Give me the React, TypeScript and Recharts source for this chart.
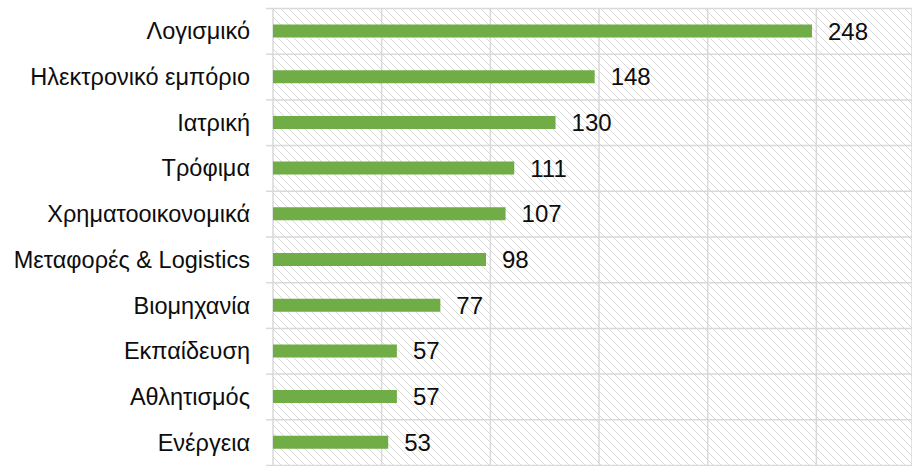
import React from 'react';
import { BarChart, Bar, XAxis, YAxis, CartesianGrid, LabelList } from 'recharts';

const categories = [
  'Λογισμικό',
  'Ηλεκτρονικό εμπόριο',
  'Ιατρική',
  'Τρόφιμα',
  'Χρηματοοικονομικά',
  'Μεταφορές & Logistics',
  'Βιομηχανία',
  'Εκπαίδευση',
  'Αθλητισμός',
  'Ενέργεια',
];
const values = [248, 148, 130, 111, 107, 98, 77, 57, 57, 53];
const xTicks = [0, 50, 100, 150, 200, 250];

const data = categories.map((name, i) => ({ name, value: values[i] }));

const FONT = "Arial, 'Liberation Sans', sans-serif";
const GRID = '#d9d9d9';
const TICK_SIZE = 7;
const TICK_MARGIN = 16;

const CategoryTick = (props: any) => {
  const { x, y, payload, index } = props;
  const half = payload && typeof payload.offset === 'number' ? payload.offset : 22.85;
  const lx1 = x + TICK_MARGIN;
  const lx2 = lx1 + TICK_SIZE;
  return (
    <g>
      <line x1={lx1} x2={lx2} y1={y - half} y2={y - half} stroke={GRID} strokeWidth={1.5} />
      {index === categories.length - 1 && (
        <line x1={lx1} x2={lx2} y1={y + half} y2={y + half} stroke={GRID} strokeWidth={1.5} />
      )}
      <text x={x} y={y} textAnchor="end" dominantBaseline="central" fontFamily={FONT} fontSize={23.5} fill="#0d0d0d">
        {payload.value}
      </text>
    </g>
  );
};

export default function App() {
  return (
    <div style={{ position: 'absolute', left: 0, top: 0, width: 912, height: 466 }}>
      <svg width={0} height={0} style={{ position: 'absolute' }}>
        <defs>
          <pattern id="hatch" width={8} height={8} patternUnits="userSpaceOnUse">
            <rect width={8} height={8} fill="#ffffff" />
            <path d="M-2,-2 L10,10 M-2,6 L2,10 M6,-2 L10,2" stroke="#d9d9d9" strokeWidth={1} />
          </pattern>
        </defs>
      </svg>
      <BarChart
        width={912}
        height={466}
        data={data}
        layout="vertical"
        margin={{ top: 8.5, right: 0, bottom: 0.5, left: 0 }}
        barCategoryGap={0}
      >
        <CartesianGrid
          fill="url(#hatch)"
          stroke={GRID}
          strokeWidth={1.5}
          horizontalCoordinatesGenerator={({ offset }: any) =>
            Array.from({ length: categories.length + 1 }, (_, i) => offset.top + (i * offset.height) / categories.length)
          }
        />
        <XAxis type="number" domain={[0, 294]} ticks={xTicks} hide />
        <YAxis
          type="category"
          dataKey="name"
          width={273}
          axisLine={false}
          tickLine={false}
          tickSize={TICK_SIZE}
          tickMargin={TICK_MARGIN}
          tick={<CategoryTick />}
          interval={0}
        />
        <Bar dataKey="value" fill="#70ad47" barSize={13} isAnimationActive={false}>
          <LabelList dataKey="value" position="right" offset={16} fontFamily={FONT} fontSize={24} fill="#0d0d0d" />
        </Bar>
      </BarChart>
    </div>
  );
}
